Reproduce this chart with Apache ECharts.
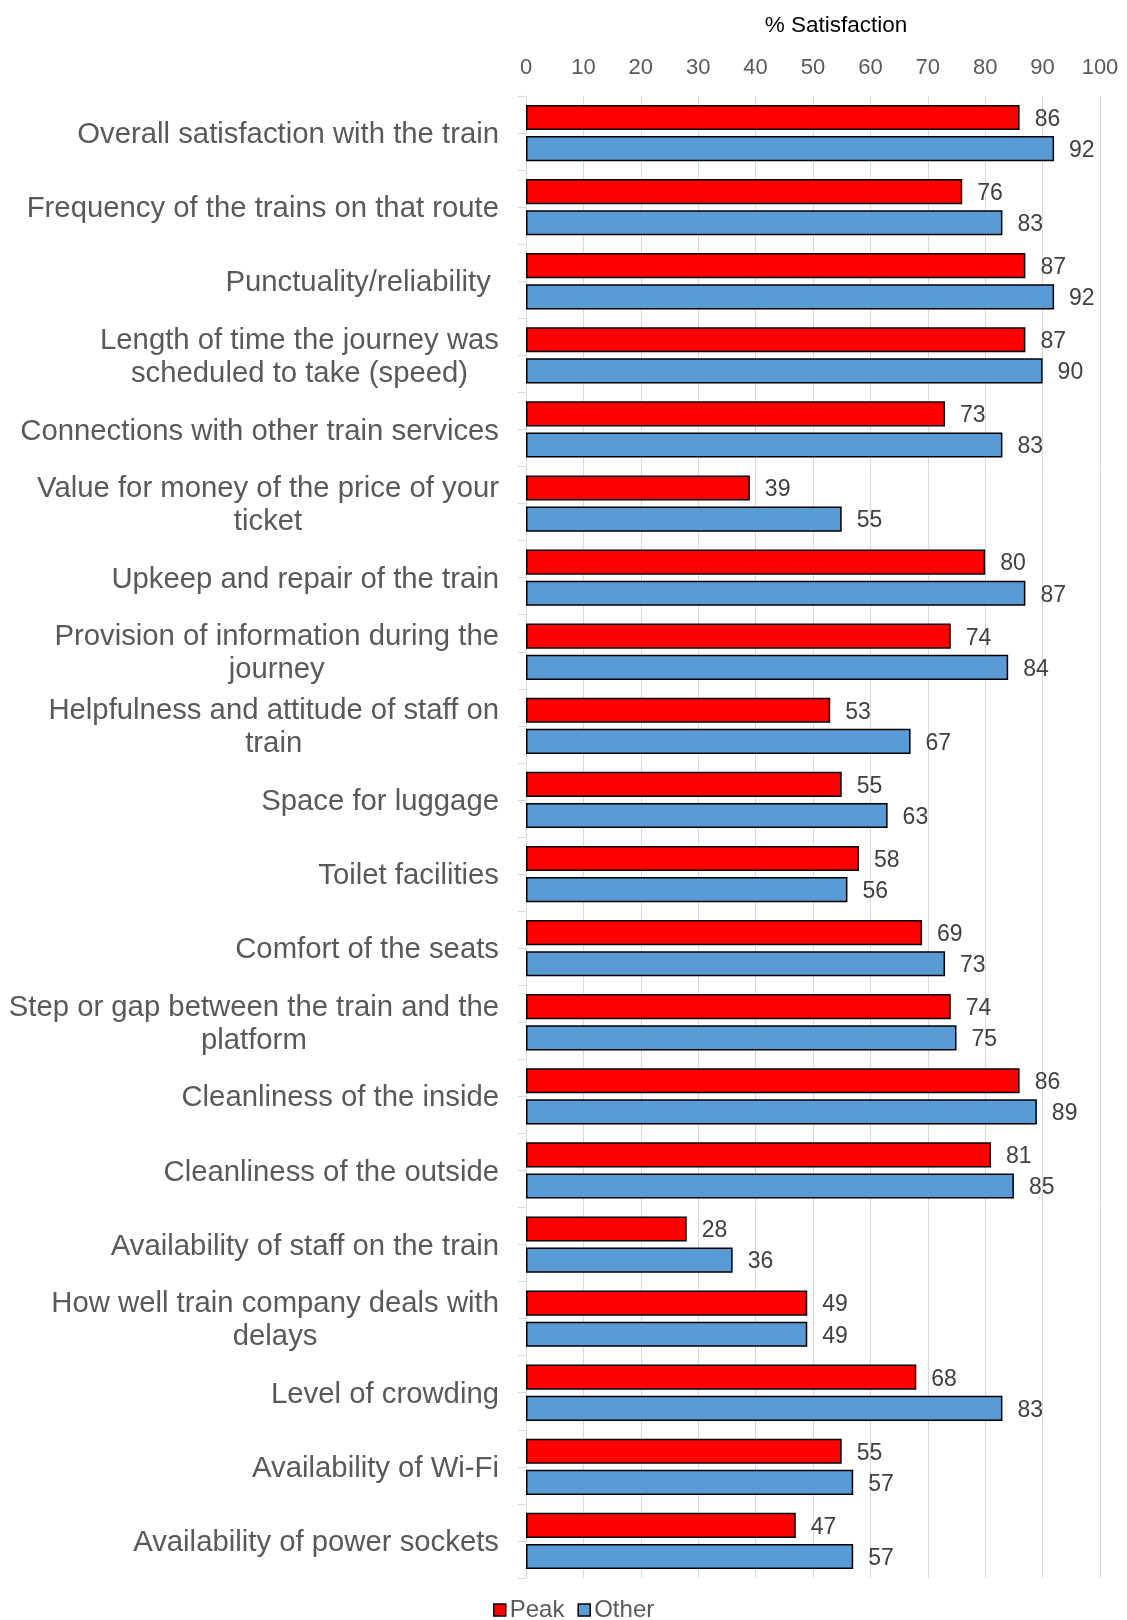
<!DOCTYPE html>
<html>
<head>
<meta charset="utf-8">
<title>% Satisfaction</title>
<script src="https://cdn.jsdelivr.net/npm/echarts@6/dist/echarts.min.js"></script>
<style>
  html, body { margin: 0; padding: 0; background: #fff; }
  #chart { width: 1127px; height: 1620px; }
</style>
</head>
<body>
<div id="chart"></div>
<script>
  // categories, top to bottom
  var categories = [
    'Overall satisfaction with the train',
    'Frequency of the trains on that route',
    'Punctuality/reliability ',
    'Length of time the journey was\nscheduled to take (speed)',
    'Connections with other train services',
    'Value for money of the price of your\nticket',
    'Upkeep and repair of the train',
    'Provision of information during the\njourney',
    'Helpfulness and attitude of staff on\ntrain',
    'Space for luggage',
    'Toilet facilities',
    'Comfort of the seats',
    'Step or gap between the train and the\nplatform',
    'Cleanliness of the inside',
    'Cleanliness of the outside',
    'Availability of staff on the train',
    'How well train company deals with\ndelays',
    'Level of crowding',
    'Availability of Wi-Fi',
    'Availability of power sockets'
  ];
  var peak  = [86, 76, 87, 87, 73, 39, 80, 74, 53, 55, 58, 69, 74, 86, 81, 28, 49, 68, 55, 47];
  var other = [92, 83, 92, 90, 83, 55, 87, 84, 67, 63, 56, 73, 75, 89, 85, 36, 49, 83, 57, 57];
  var seriesNames = ['Peak', 'Other'];
  var xTicks = [0, 100, 10];

  var font = "'Liberation Sans', Arial, sans-serif";

  // half-category ticks on the left axis (boundaries and between the two bars)
  var halfTicks = [];
  categories.forEach(function () { halfTicks.push('', ''); });

  var chart = echarts.init(document.getElementById('chart'));

  function barSeries(name, data, color) {
    return {
      name: name,
      type: 'bar',
      data: data,
      barGap: '24%',
      barCategoryGap: '24%',
      itemStyle: { color: color, borderColor: '#000', borderWidth: 1.5 },
      label: {
        show: true, position: 'right', distance: 15, offset: [0, 2],
        fontFamily: font, fontSize: 23, color: '#404040'
      }
    };
  }

  chart.setOption({
    animation: false,
    title: {
      text: '% Satisfaction',
      left: 831, top: 9, textAlign: 'center',
      textStyle: { fontFamily: font, fontSize: 22.5, fontWeight: 'normal', color: '#000' }
    },
    legend: {
      data: seriesNames,
      left: 493, top: 1598, padding: 0,
      icon: 'rect', itemWidth: 12, itemHeight: 12, itemGap: 13,
      itemStyle: { borderColor: '#000', borderWidth: 1.5 },
      textStyle: { fontFamily: font, fontSize: 24, color: '#595959', padding: [0, 0, 0, -1] }
    },
    grid: { left: 526, right: 27, top: 96, bottom: 42, containLabel: false },
    xAxis: {
      type: 'value', position: 'top',
      min: xTicks[0], max: xTicks[1], interval: xTicks[2],
      axisLine: { show: false },
      axisTick: { show: false },
      splitLine: { lineStyle: { color: '#d9d9d9', width: 1 } },
      axisLabel: { fontFamily: font, fontSize: 22, color: '#595959', margin: 17 }
    },
    yAxis: [{
      type: 'category', data: categories, inverse: true, position: 'left',
      axisLine: { lineStyle: { color: '#d9d9d9', width: 1 } },
      axisTick: { show: false },
      axisLabel: {
        margin: 27, align: 'right',
        fontFamily: font, fontSize: 29.3, color: '#595959', lineHeight: 33,
        padding: [4, 0, 0, 0],
        formatter: function (v) {
          return v.split('\n').map(function (s) { return '{c|' + s + '}'; }).join('\n');
        },
        rich: { c: { align: 'center', fontFamily: font, fontSize: 29.3, color: '#595959', lineHeight: 33 } }
      }
    }, {
      type: 'category', data: halfTicks, inverse: true, position: 'left',
      axisLine: { show: false },
      axisTick: { show: true, length: 8, lineStyle: { color: '#d9d9d9', width: 1 } },
      axisLabel: { show: false },
      splitLine: { show: false }
    }],
    series: [
      barSeries(seriesNames[0], peak, '#ff0000'),
      barSeries(seriesNames[1], other, '#5b9bd5')
    ]
  });
</script>
</body>
</html>
